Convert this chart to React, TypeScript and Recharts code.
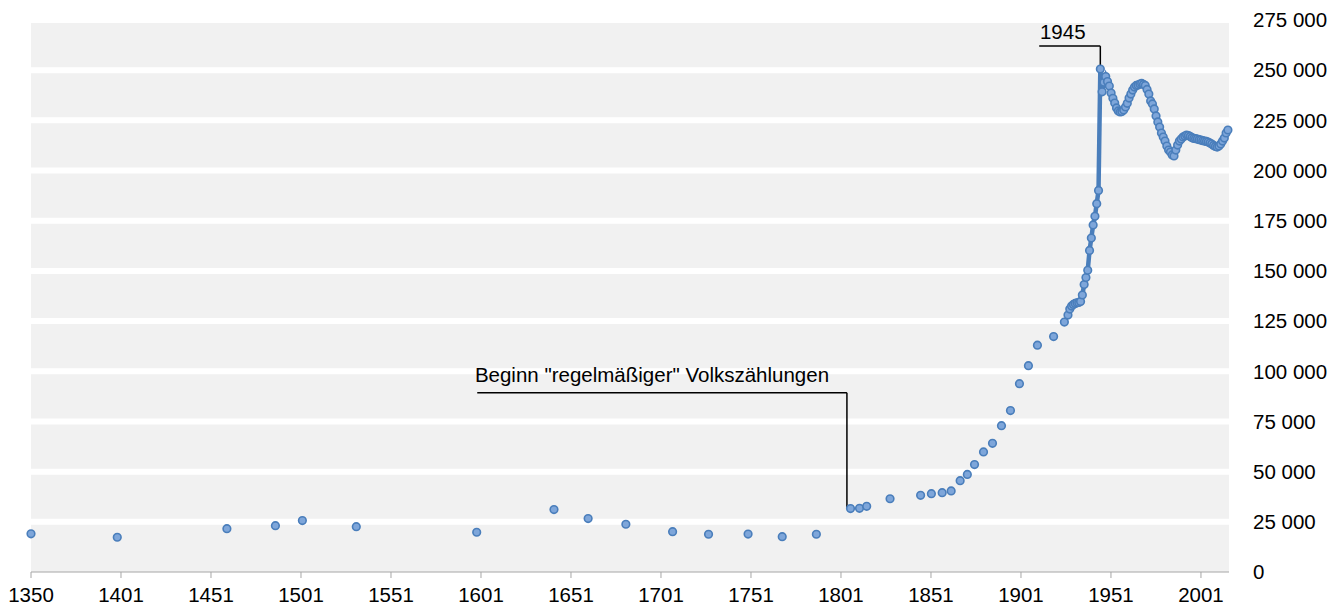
import { ComposedChart, Line, Scatter, XAxis, YAxis, CartesianGrid, ReferenceLine, ReferenceDot } from "recharts"

const FONT = '"Liberation Sans", Arial, sans-serif'
const BLUE = "#4a7ebb"
const DOT_FILL = "#7ea6da"

// einzelne Angaben vor den Volkszählungen
const earlyYears = [1350, 1398, 1459, 1486, 1501, 1531, 1598, 1641, 1660, 1681, 1707, 1727, 1749, 1768, 1787]
const earlyPop = [19000, 17300, 21600, 23100, 25600, 22600, 19800, 31100, 26600, 23800, 20100, 18800, 18900, 17600, 18800]

// Volkszählungen 1806 - 1925
const censusYears = [1806, 1811, 1815, 1828, 1845, 1851, 1857, 1862, 1867, 1871, 1875, 1880, 1885, 1890, 1895, 1900, 1905, 1910, 1919, 1925]
const censusPop = [31600, 31700, 32700, 36500, 38200, 39000, 39500, 40400, 45500, 48600, 53500, 59800, 64100, 72900, 80400, 93800, 102800, 113000, 117300, 124500]

// jährliche Werte ab 1927
const annualYears = [
  1927, 1928, 1929, 1930, 1931, 1932, 1933, 1934, 1935, 1936, 1937, 1938, 1939, 1940, 1941, 1942, 1943, 1944,
  1945, 1946, 1947, 1948, 1949, 1950, 1951, 1952, 1953, 1954, 1955, 1956, 1957, 1958, 1959, 1960, 1961, 1962,
  1963, 1964, 1965, 1966, 1967, 1968, 1969, 1970, 1971, 1972, 1973, 1974, 1975, 1976, 1977, 1978, 1979, 1980,
  1981, 1982, 1983, 1984, 1985, 1986, 1987, 1988, 1989, 1990, 1991, 1992, 1993, 1994, 1995, 1996, 1997, 1998,
  1999, 2000, 2001, 2002, 2003, 2004, 2005, 2006, 2007, 2008, 2009, 2010, 2011, 2012, 2013, 2014, 2015, 2016,
]
const annualPop = [
  128000, 131000, 132500, 133300, 133800, 134100, 134300, 134800, 138000, 143200, 146700, 150300, 160200, 166400, 172900, 177200, 183500, 190100,
  250600, 239200, 244000, 246800, 244300, 242100, 238600, 236000, 233600, 231200, 229700, 229200, 229400, 230200, 231700, 233500, 236100, 238100,
  240100, 241600, 242400, 242600, 243100, 243400, 242900, 242400, 240400, 238100, 234700, 233200, 230700, 227200, 224200, 221700, 218700, 216700,
  214700, 212200, 210200, 209200, 207800, 207300, 210200, 212700, 214700, 215700, 216700, 217200, 217700, 217400, 217000, 216400, 216000, 215900,
  215700, 215400, 215200, 214900, 214700, 214500, 214200, 213700, 213200, 212500, 212000, 211700, 212200, 213200, 214700, 216200, 218700, 220200,
]

const xTickLabels = ["1350", "1401", "1451", "1501", "1551", "1601", "1651", "1701", "1751", "1801", "1851", "1901", "1951", "2001"]
const yTicks = [0, 25000, 50000, 75000, 100000, 125000, 150000, 175000, 200000, 225000, 250000, 275000]

const X_MIN = 1350
const X_MAX = 2016.6
const tickStep = (Number(xTickLabels[xTickLabels.length - 1]) - X_MIN) / (xTickLabels.length - 1)
const xTicks = xTickLabels.map((_, i) => X_MIN + i * tickStep)

type Pt = { year: number; pop: number }

const points: Pt[] = [
  ...earlyYears.map((year, i) => ({ year, pop: earlyPop[i] })),
  ...censusYears.map((year, i) => ({ year, pop: censusPop[i] })),
  ...annualYears.map((year, i) => ({ year, pop: annualPop[i] })),
]

// Linie nur zwischen aufeinanderfolgenden Jahren
const segments: Pt[][] = []
points.forEach((p, i) => {
  if (i > 0 && p.year - points[i - 1].year === 1) segments[segments.length - 1].push(p)
  else segments.push([p])
})

const fmt = (v: number) => String(v).replace(/\B(?=(\d{3})+(?!\d))/g, " ")

const renderDot = (props: any) => (
  <circle cx={props.cx} cy={props.cy} r={3.8} fill={DOT_FILL} stroke={BLUE} strokeWidth={1.6} />
)

const noteText = (text: string) => (props: any) => (
  <text x={props.cx} y={props.cy} fill="#000" fontSize={20.5} fontFamily={FONT}>
    {text}
  </text>
)

export default function App() {
  return (
    <div style={{ position: "absolute", left: 0, top: 0, width: 1331, height: 607, background: "#fff" }}>
      <ComposedChart width={1331} height={607} margin={{ top: 20, right: 0, bottom: 0, left: 31 }}>
        <CartesianGrid
          vertical={false}
          horizontalValues={yTicks.filter((t) => t > 0)}
          fill="#f1f1f1"
          fillOpacity={1}
          stroke="#ffffff"
          strokeWidth={6}
        />
        <XAxis
          type="number"
          dataKey="year"
          domain={[X_MIN, X_MAX]}
          ticks={xTicks}
          tickFormatter={(_v: number, i: number) => xTickLabels[i]}
          height={35}
          stroke="#a6a6a6"
          tickSize={6}
          tickMargin={9}
          tick={{ fill: "#000", fontSize: 20.5, fontFamily: FONT }}
        />
        <YAxis
          type="number"
          dataKey="pop"
          orientation="right"
          domain={[0, 275000]}
          ticks={yTicks}
          tickFormatter={fmt}
          width={102}
          axisLine={false}
          tickLine={false}
          tickMargin={18}
          tick={{ fill: "#000", fontSize: 20.5, fontFamily: FONT }}
        />
        {segments
          .filter((s) => s.length > 1)
          .map((s, i) => (
            <Line
              key={i}
              data={s}
              dataKey="pop"
              type="linear"
              stroke={BLUE}
              strokeWidth={4.5}
              dot={false}
              activeDot={false}
              isAnimationActive={false}
            />
          ))}
        <Scatter data={points} dataKey="pop" shape={renderDot} isAnimationActive={false} />

        <ReferenceLine segment={[{ x: 1598.3, y: 89300 }, { x: 1804, y: 89300 }]} stroke="#000" strokeWidth={1.5} />
        <ReferenceLine segment={[{ x: 1804, y: 89300 }, { x: 1804, y: 31600 }]} stroke="#000" strokeWidth={1.5} />
        <ReferenceDot x={1597} y={94800} shape={noteText('Beginn "regelmäßiger" Volkszählungen')} />

        <ReferenceLine segment={[{ x: 1911, y: 262000 }, { x: 1945, y: 262000 }]} stroke="#000" strokeWidth={1.5} />
        <ReferenceLine segment={[{ x: 1945, y: 262000 }, { x: 1945, y: 250600 }]} stroke="#000" strokeWidth={1.5} />
        <ReferenceDot x={1911.4} y={265400} shape={noteText("1945")} />
      </ComposedChart>
    </div>
  )
}
